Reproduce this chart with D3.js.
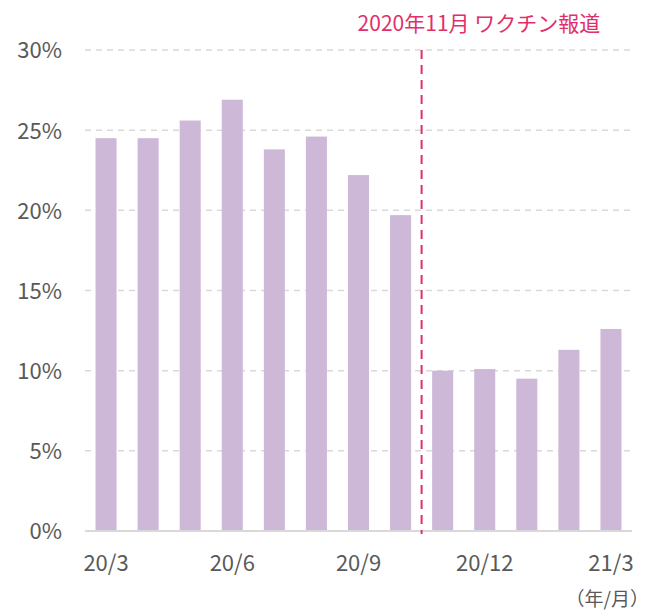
<!DOCTYPE html>
<html>
<head>
<meta charset="utf-8">
<script src="https://cdn.jsdelivr.net/npm/d3@7"></script>
<style>
  body { margin: 0; background: #fff; }
  svg text { font-family: "Noto Sans CJK JP", "Noto Sans", sans-serif; }
</style>
</head>
<body>
<div id="chart"></div>
<script>
// Data
const months = ["20/3", "20/4", "20/5", "20/6", "20/7", "20/8", "20/9", "20/10", "20/11", "20/12", "21/1", "21/2", "21/3"];
const values = [24.5, 24.5, 25.6, 26.9, 23.8, 24.6, 22.2, 19.7, 10.0, 10.1, 9.5, 11.3, 12.6];
const xTickLabels = ["20/3", "20/6", "20/9", "20/12", "21/3"];
const yTicks = [0, 5, 10, 15, 20, 25, 30];
const markerAfter = "20/10";
const markerLabel = "2020年11月 ワクチン報道";
const unitLabel = "（年/月）";

const W = 652, H = 611;
const margin = { top: 50, right: 20, bottom: 80, left: 85 };
const width = W - margin.left - margin.right;
const height = H - margin.top - margin.bottom;

const svg = d3.select("#chart").append("svg")
  .attr("width", W)
  .attr("height", H);

const g = svg.append("g")
  .attr("transform", `translate(${margin.left},${margin.top})`);

const x = d3.scaleBand()
  .domain(months)
  .range([0, width])
  .paddingInner(0.5)
  .paddingOuter(0.25);

const y = d3.scaleLinear()
  .domain([0, 30])
  .range([height, 0]);

// Grid punteado
g.selectAll(".grid")
  .data(yTicks.filter(d => d > 0))
  .enter().append("line")
  .attr("x1", 0).attr("x2", width)
  .attr("y1", d => y(d)).attr("y2", d => y(d))
  .attr("stroke", "#d9d9d9")
  .attr("stroke-width", 1.5)
  .attr("stroke-dasharray", "6,5");

// Y labels
const yAxis = g.append("g")
  .call(d3.axisLeft(y).tickValues(yTicks).tickSize(0).tickPadding(23).tickFormat(d => d + "%"));
yAxis.select(".domain").remove();
yAxis.selectAll("text")
  .attr("fill", "#595959")
  .attr("dy", "0.36em")
  .style("font-size", "22px");

// Bars
g.selectAll(".bar")
  .data(values)
  .enter().append("rect")
  .attr("x", (d, i) => x(months[i]))
  .attr("width", x.bandwidth())
  .attr("y", d => y(d))
  .attr("height", d => height - y(d))
  .attr("fill", "#cdb8d8");

// Baseline
g.append("line")
  .attr("x1", 0).attr("x2", width)
  .attr("y1", height).attr("y2", height)
  .attr("stroke", "#d9d9d9")
  .attr("stroke-width", 2);

// X labels
const xAxis = g.append("g")
  .attr("transform", `translate(0,${height})`)
  .call(d3.axisBottom(x).tickValues(xTickLabels).tickSize(0).tickPadding(24));
xAxis.select(".domain").remove();
xAxis.selectAll("text")
  .attr("fill", "#595959")
  .style("font-size", "22px");

// Marker line
const step = x.step();
const mx = x(markerAfter) + x.bandwidth() + (step - x.bandwidth()) / 2;
g.append("line")
  .attr("x1", mx).attr("x2", mx)
  .attr("y1", y(30)).attr("y2", height + 3)
  .attr("stroke", "#e0306a")
  .attr("stroke-width", 2)
  .attr("stroke-dasharray", "9,6");

g.append("text")
  .attr("x", mx - 64)
  .attr("y", -19)
  .attr("fill", "#e0306a")
  .style("font-size", "21px")
  .text(markerLabel);

// Unit label
svg.append("text")
  .attr("x", W - 3)
  .attr("y", H - 5)
  .attr("text-anchor", "end")
  .attr("fill", "#595959")
  .style("font-size", "19px")
  .text(unitLabel);
</script>
</body>
</html>
